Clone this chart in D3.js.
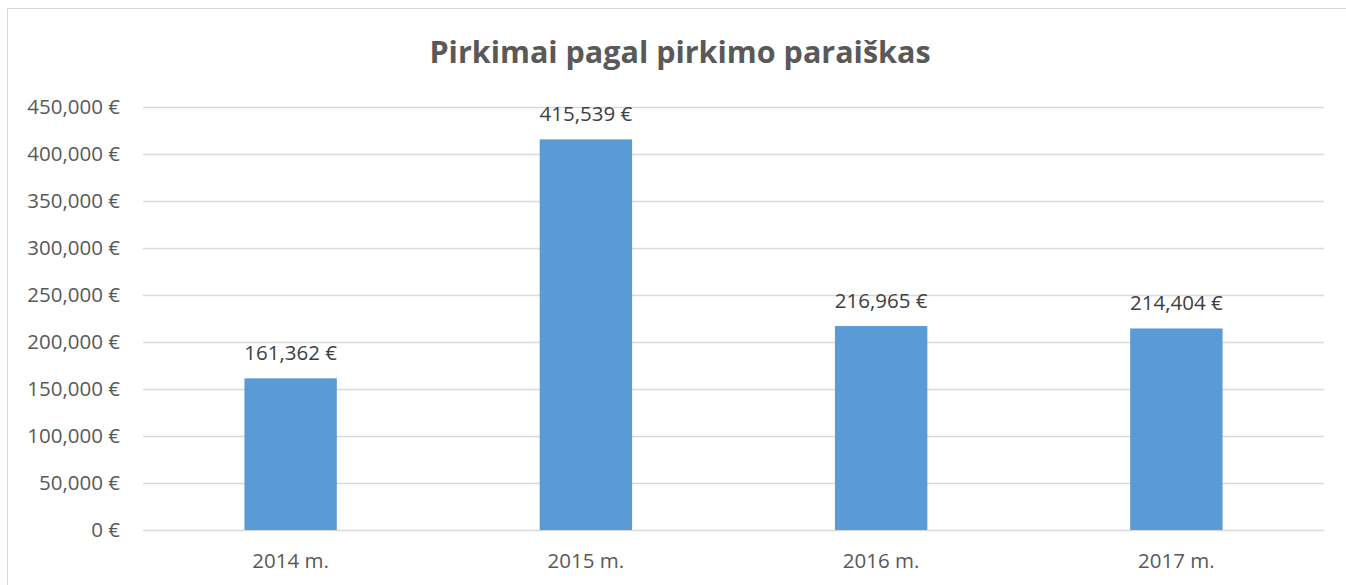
<!DOCTYPE html>
<html><head><meta charset="utf-8">
<script src="https://cdn.jsdelivr.net/npm/d3@7"></script>
<style>body{margin:0;background:#fff;}svg{display:block;font-family:"Open Sans",sans-serif;}</style>
</head><body><svg id="c" width="1346" height="585"></svg>
<script>
const categories = ["2014 m.", "2015 m.", "2016 m.", "2017 m."];
const values = [161362, 415539, 216965, 214404];
const yTicks = [0, 50000, 100000, 150000, 200000, 250000, 300000, 350000, 400000, 450000];
const title = "Pirkimai pagal pirkimo paraiškas";

const svg = d3.select("#c");
const FONT = "'Open Sans',sans-serif";
const m = {left: 143, right: 1324, top: 107, bottom: 530};
// outer border
svg.append("rect").attr("x", 7.5).attr("y", 8.5).attr("width", 1400).attr("height", 700)
  .attr("fill", "none").attr("stroke", "#d9d9d9").attr("stroke-width", 1);

const fmt = d => d3.format(",")(d) + " €";
const x = d3.scaleBand().domain(categories).range([m.left, m.right]).paddingInner(0.687).paddingOuter(0.3435);
const y = d3.scaleLinear().domain([0, 450000]).range([m.bottom, m.top]);

svg.append("g").selectAll("line").data(yTicks).join("line")
  .attr("x1", m.left).attr("x2", m.right)
  .attr("y1", d => Math.round(y(d)) + 0.5).attr("y2", d => Math.round(y(d)) + 0.5)
  .attr("stroke", "#d9d9d9").attr("stroke-width", 1.3);

const yAxis = d3.axisLeft(y).tickValues(yTicks).tickFormat(fmt).tickSize(0).tickPadding(0);
const ga = svg.append("g").attr("transform", `translate(${m.left - 23},0)`).call(yAxis);
ga.select(".domain").remove();
ga.selectAll("text").attr("font-size", 20.5).attr("fill", "#595959").attr("font-family", FONT);

svg.append("g").selectAll("text").data(values).join("text")
  .attr("x", (d, i) => x(categories[i]) + x.bandwidth() / 2)
  .attr("y", d => y(d) - 18)
  .attr("text-anchor", "middle").attr("font-size", 20.5).attr("fill", "#404040").attr("font-family", FONT)
  .text(fmt);

svg.append("g").selectAll("rect").data(values).join("rect")
  .attr("x", (d, i) => x(categories[i])).attr("width", x.bandwidth())
  .attr("y", d => y(d)).attr("height", d => y(0) - y(d))
  .attr("fill", "#5b9bd5");

const xAxis = d3.axisBottom(x).tickSize(0).tickPadding(0);
const gx = svg.append("g").attr("transform", `translate(0,${m.bottom})`).call(xAxis);
gx.select(".domain").remove();
gx.selectAll("text").attr("font-size", 20.5).attr("fill", "#595959").attr("y", 38).attr("dy", 0).attr("font-family", FONT);

svg.append("text").attr("x", 680).attr("y", 63).attr("text-anchor", "middle").attr("font-family", FONT)
  .attr("font-size", 30.5).attr("font-weight", "bold").attr("fill", "#595959").text(title);
</script></body></html>
